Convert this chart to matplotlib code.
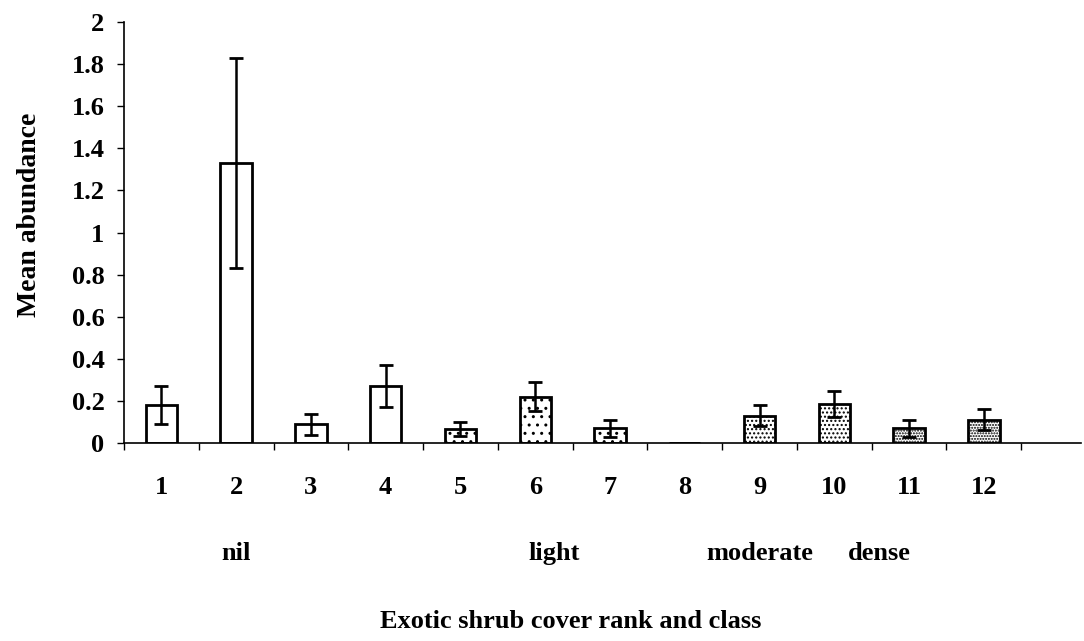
import numpy as np
import matplotlib.pyplot as plt
from matplotlib import transforms

ranks = ['1', '2', '3', '4', '5', '6', '7', '8', '9', '10', '11', '12']
means = [0.18, 1.33, 0.09, 0.27, 0.067, 0.22, 0.07, 0.0, 0.13, 0.185, 0.07, 0.11]
errors = [0.09, 0.50, 0.05, 0.10, 0.033, 0.07, 0.04, 0.0, 0.05, 0.06, 0.04, 0.05]
hatches = ['', '', '', '', '..', '..', '..', '', '....', '....', '......', '......']
classes = ['nil', 'light', 'moderate', 'dense']
class_pos = [2.0, 6.25, 9.0, 10.6]

plt.rcParams['font.family'] = 'Liberation Serif'
plt.rcParams['font.weight'] = 'bold'
plt.rcParams['hatch.linewidth'] = 1.0

fig = plt.figure(figsize=(10.84, 6.41), dpi=100)
ax = fig.add_axes([124 / 1084, 1 - 443 / 641, (1081 - 124) / 1084, (443 - 22) / 641])

x = np.arange(1, len(ranks) + 1)
for xi, m, e, h in zip(x, means, errors, hatches):
    ax.bar(xi, m, width=0.42, color='white', edgecolor='black', linewidth=2.0, hatch=h, zorder=2)
    if m > 0:
        ax.errorbar(xi, m, yerr=e, fmt='none', ecolor='black', elinewidth=1.8,
                    capsize=4.8, capthick=2.0, zorder=3)

ax.set_xlim(0.5, 13.3)
ax.set_ylim(0, 2)
ax.set_yticks(np.arange(0, 2.01, 0.2))
ax.set_yticklabels(['0', '0.2', '0.4', '0.6', '0.8', '1', '1.2', '1.4', '1.6', '1.8', '2'])
ax.set_xticks(np.arange(0.5, 12.6, 1.0))
ax.set_xticklabels([])
ax.set_xticks(x, minor=True)
ax.set_xticklabels(ranks, minor=True)
ax.tick_params(axis='x', which='minor', length=0, pad=24, labelsize=19)
ax.tick_params(axis='x', which='major', length=5, direction='out', width=1)
ax.tick_params(axis='y', length=5, direction='out', width=1, labelsize=19, pad=9)
for lab in ax.get_xticklabels(minor=True) + ax.get_yticklabels():
    lab.set_fontweight('bold')

ax.spines['top'].set_visible(False)
ax.spines['right'].set_visible(False)
ax.spines['left'].set_linewidth(1.2)
ax.spines['bottom'].set_linewidth(1.2)

trans = transforms.blended_transform_factory(ax.transData, ax.transAxes)
for name, pos in zip(classes, class_pos):
    ax.text(pos, -0.262, name, transform=trans, ha='center', va='center',
            fontsize=19, fontweight='bold')

fig.text(30 / 1084, 1 - 215 / 641, 'Mean abundance', rotation=90, ha='center',
         va='center', fontsize=20, fontweight='bold')
fig.text(571 / 1084, 1 - 622 / 641, 'Exotic shrub cover rank and class', ha='center',
         va='center', fontsize=19, fontweight='bold')

fig.savefig('out.png', dpi=100)
